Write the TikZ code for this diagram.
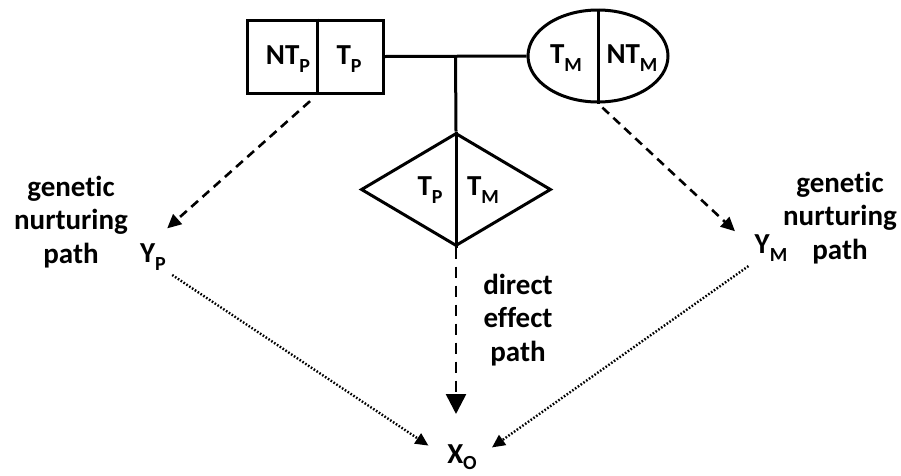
\documentclass[tikz,border=0pt]{standalone}
\usepackage{fontspec}
\setmainfont{Carlito}[Ligatures={NoCommon}]
\usetikzlibrary{arrows.meta,shapes.geometric,calc}
\newcommand\lowsub[2][8pt]{\raisebox{-#1}{\fontsize{20}{20}\selectfont #2}}
\begin{document}
\begin{tikzpicture}[x=1pt,y=-1pt,
  txt/.style={font=\fontsize{29}{33.5}\selectfont\bfseries, inner sep=2pt, align=center},
  shapeline/.style={draw, line width=3pt, inner sep=0pt},
  dashedarrow/.style={line width=2.6pt, dash pattern=on 9pt off 6pt, -{Triangle[length=14pt,width=13pt]}},
  bigarrow/.style={line width=2.6pt, dash pattern=on 11pt off 8pt, -{Triangle[length=20pt,width=20pt]}},
  dottedarrow/.style={line width=2.4pt, dash pattern=on 1.6pt off 1.8pt, -{Triangle[length=13pt,width=12pt]}}]
\useasboundingbox (0,0) rectangle (901,475);
% parental shapes
\node[shapeline, minimum width=136pt, minimum height=73pt] (rect) at (315,56.5) {};
\draw[line width=3pt] ($(rect.north west)+(72,0)$) -- ($(rect.south west)+(72,0)$);
\node[txt, anchor=base] (ntp) at (288,64) {NT\lowsub{P}};
\node[txt, anchor=base] (tp) at (349,64) {T\lowsub{P}};
\node[shapeline, ellipse, minimum width=140pt, minimum height=92pt] (ell) at (598,56) {};
\draw[line width=3pt] (ell.north) -- (ell.south);
\node[txt, anchor=base] (tm) at (566,63) {T\lowsub{M}};
\node[txt, anchor=base] (ntm) at (632,63) {NT\lowsub{M}};
% mating line
\draw[line width=3pt] (rect.east) -- (ell.west);
\coordinate (junc) at ($(rect.east)!0.5!(ell.west)$);
% offspring diamond
\node[shapeline, diamond, minimum width=190pt, minimum height=113pt] (dia) at (456,189.5) {};
\draw[line width=3pt] (junc) -- (dia.north);
\draw[line width=3pt] (dia.north) -- (dia.south);
\node[txt, anchor=base] (dtp) at (430,195) {T\lowsub{P}};
\node[txt, anchor=base] (dtm) at (483,195) {T\lowsub{M}};
% outcome nodes
\node[txt, anchor=base] (yp) at (153,262) {Y\lowsub{P}};
\node[txt, anchor=base] (ym) at (771,253) {Y\lowsub{M}};
\node[txt, anchor=base] (xo) at (462,463) {X\lowsub[6pt]{O}};
% labels
\node[txt] (lgen) at (71,222) {genetic\\nurturing\\path};
\node[txt] (rgen) at (840,218) {genetic\\nurturing\\path};
\node[txt] (dir) at (518,320) {direct\\effect\\path};
% connectors
\coordinate (rbot) at ($(rect.south west)+(72,0)$);
\draw[dashedarrow, shorten <=10pt, shorten >=19pt] (rbot) -- (yp.north);
\draw[dashedarrow, shorten <=6pt, shorten >=24pt] (ell.south) -- (ym.west);
\draw[bigarrow, shorten >=28pt] (dia.south) -- (dia.south |- xo.north);
\draw[dottedarrow, shorten <=5pt, shorten >=20pt] (yp.south east) -- (xo.west);
\draw[dottedarrow, shorten <=5pt, shorten >=16pt] (ym.south west) -- (xo.east);
\end{tikzpicture}
\end{document}
